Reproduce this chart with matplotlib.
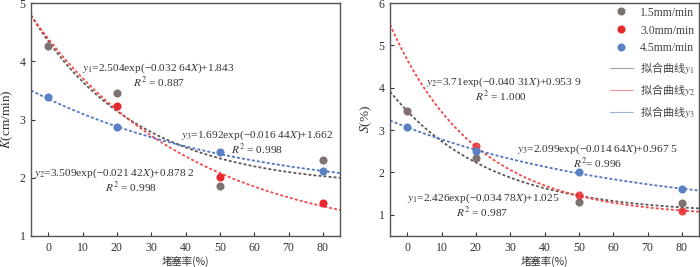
import numpy as np
import matplotlib
matplotlib.use("Agg")
import matplotlib.pyplot as plt
from matplotlib.lines import Line2D

plt.rcParams['font.family'] = ['Liberation Serif', 'Noto Sans CJK SC']
plt.rcParams['mathtext.fontset'] = 'stix'

# ---- data ----
x_pts = [0, 20, 50, 80]
series_labels = ['1.5mm/min', '3.0mm/min', '4.5mm/min']
fit_labels = ['拟合曲线$y_1$', '拟合曲线$y_2$', '拟合曲线$y_3$']

K_gray = [4.27, 3.46, 1.86, 2.31]
K_red_x = [20, 50, 80]
K_red = [3.24, 2.02, 1.56]
K_blue = [3.38, 2.87, 2.45, 2.12]

S_gray = [3.44, 2.33, 1.30, 1.28]
S_red_x = [20, 50, 80]
S_red = [2.63, 1.46, 1.10]
S_blue = [3.08, 2.50, 2.02, 1.61]

# fit coefficients (a, b, c) for y = a*exp(-b*X)+c
K_fit1 = [2.504, 0.03264, 1.843]
K_fit2 = [3.509, 0.02142, 0.8782]
K_fit3 = [1.692, 0.01644, 1.662]
S_fit1 = [2.426, 0.03478, 1.025]
S_fit2 = [3.71, 0.04031, 0.9539]
S_fit3 = [2.099, 0.01464, 0.9675]

c_gray = '#7d7370'
c_red = '#e8282c'
c_blue = '#5b80c6'
lc_gray = '#5e5856'
lc_red = '#f04848'
lc_blue = '#4f74c4'

fig = plt.figure(figsize=(7.0, 2.67), dpi=100)
ax1 = fig.add_axes([31/700, 31/267, 309/700, 233/267])
ax2 = fig.add_axes([390/700, 31/267, 309/700, 233/267])

xs = np.linspace(-5, 85, 300)

def fitcurve(p):
    return p[0] * np.exp(-p[1] * xs) + p[2]

def style(ax):
    ax.set_xlim(-5, 85)
    ax.set_xticks(range(0, 90, 10))
    ax.tick_params(direction='in', length=3, width=0.8, labelsize=8.5,
                   colors='#333333', pad=4)
    for s in ax.spines.values():
        s.set_color('#555555')
        s.set_linewidth(1.0)
    ax.set_xlabel('堵塞率(%)', fontsize=7.5, color='#333333',
                  family=['Noto Sans CJK SC', 'Liberation Serif'], labelpad=2)

ms = 34
lw = 1.3
dash = (0, (1.6, 1.2))

# Left chart
ax1.plot(xs, fitcurve(K_fit1), color=lc_gray, lw=lw, ls=dash)
ax1.plot(xs, fitcurve(K_fit2), color=lc_red, lw=lw, ls=dash)
ax1.plot(xs, fitcurve(K_fit3), color=lc_blue, lw=lw, ls=dash)
ax1.scatter(x_pts, K_gray, s=ms, color=c_gray, zorder=3, linewidths=0)
ax1.scatter(K_red_x, K_red, s=ms, color=c_red, zorder=3, linewidths=0)
ax1.scatter(x_pts, K_blue, s=ms, color=c_blue, zorder=3, linewidths=0)
ax1.set_ylim(1, 5)
ax1.set_yticks([1, 2, 3, 4, 5])
style(ax1)
ax1.set_ylabel('$K$(cm/min)', fontsize=9.5, color='#333333', labelpad=3)

fs = 8.2
tc = '#333333'
ax1.text(32.2, 3.88, '$y_1$=2.504exp(−0.032 64$X$)+1.843', fontsize=fs, color=tc, ha='center', va='center')
ax1.text(32.2, 3.64, '$R^2$ = 0.887', fontsize=fs, color=tc, ha='center', va='center')
ax1.text(60.8, 2.73, '$y_3$=1.692exp(−0.016 44$X$)+1.662', fontsize=fs, color=tc, ha='center', va='center')
ax1.text(60.8, 2.49, '$R^2$ = 0.998', fontsize=fs, color=tc, ha='center', va='center')
ax1.text(19.3, 2.08, '$y_2$=3.509exp(−0.021 42$X$)+0.878 2', fontsize=fs, color=tc, ha='center', va='center')
ax1.text(24.0, 1.84, '$R^2$ = 0.998', fontsize=fs, color=tc, ha='center', va='center')

# Right chart
ax2.plot(xs, fitcurve(S_fit1), color=lc_gray, lw=lw, ls=dash)
ax2.plot(xs, fitcurve(S_fit2), color=lc_red, lw=lw, ls=dash)
ax2.plot(xs, fitcurve(S_fit3), color=lc_blue, lw=lw, ls=dash)
ax2.scatter(x_pts, S_gray, s=ms, color=c_gray, zorder=3, linewidths=0)
ax2.scatter(S_red_x, S_red, s=ms, color=c_red, zorder=3, linewidths=0, alpha=0.85)
ax2.scatter(x_pts, S_blue, s=ms, color=c_blue, zorder=3, linewidths=0)
ax2.set_ylim(0.5, 6)
ax2.set_yticks([1, 2, 3, 4, 5, 6])
style(ax2)
ax2.set_ylabel('$S$(%)', fontsize=9.5, color='#333333', labelpad=3)

ax2.text(28.0, 4.13, '$y_2$=3.71exp(−0.040 31$X$)+0.953 9', fontsize=fs, color=tc, ha='center', va='center')
ax2.text(27.3, 3.80, '$R^2$ = 1.000', fontsize=fs, color=tc, ha='center', va='center')
ax2.text(55.4, 2.54, '$y_3$=2.099exp(−0.014 64$X$)+0.967 5', fontsize=fs, color=tc, ha='center', va='center')
ax2.text(55.4, 2.21, '$R^2$= 0.996', fontsize=fs, color=tc, ha='center', va='center')
ax2.text(22.2, 1.39, '$y_1$=2.426exp(−0.034 78$X$)+1.025', fontsize=fs, color=tc, ha='center', va='center')
ax2.text(21.8, 1.06, '$R^2$ = 0.987', fontsize=fs, color=tc, ha='center', va='center')

handles = [
    Line2D([], [], ls='none', marker='o', ms=5.8, color=c_gray, mec='none'),
    Line2D([], [], ls='none', marker='o', ms=5.8, color=c_red, mec='none'),
    Line2D([], [], ls='none', marker='o', ms=5.8, color=c_blue, mec='none'),
    Line2D([], [], color=lc_gray, lw=0.8, ls=(0, (1, 0.8))),
    Line2D([], [], color=lc_red, lw=0.8, ls=(0, (1, 0.8))),
    Line2D([], [], color=lc_blue, lw=0.8, ls=(0, (1, 0.8))),
]
labels = series_labels + fit_labels
leg = ax2.legend(handles, labels, loc='upper right', frameon=False,
                 handlelength=2.0, handletextpad=0.6, labelspacing=0.5,
                 bbox_to_anchor=(1.015, 1.02), borderaxespad=0.3,
                 prop={'family': ['Liberation Serif'], 'size': 8.5})
for i, t in enumerate(leg.get_texts()):
    t.set_color('#444444')
    if i >= 3:
        t.set_fontfamily(['Noto Sans CJK SC'])
        t.set_fontsize(8)

fig.savefig('out.png', dpi=100)
